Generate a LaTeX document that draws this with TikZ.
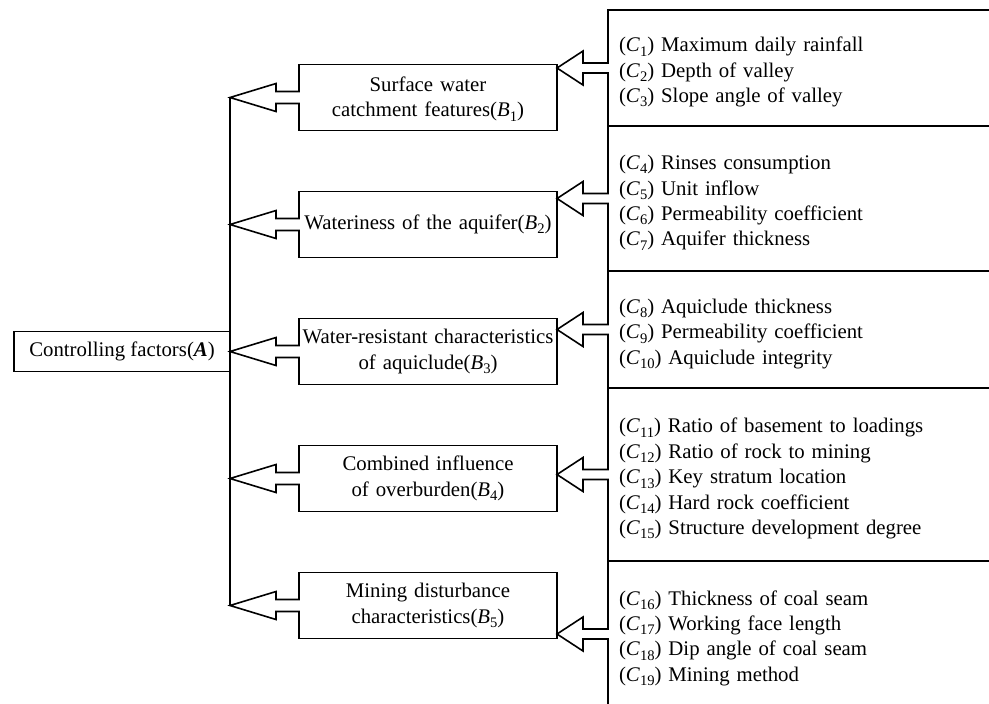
\documentclass[tikz,border=0pt]{standalone}
\usepackage{fontspec}
\setmainfont{Liberation Serif}
\usetikzlibrary{positioning,calc}

\newcommand{\fac}[2]{\textit{#1}\raisebox{-0.45ex}{\fontsize{7.3}{8}\selectfont#2}}

\begin{document}
\begin{tikzpicture}[x=0.5pt, y=-0.5pt, line width=0.8pt,
    every node/.style={font=\fontsize{10.4}{12.7}\selectfont, outer sep=0pt},
    factor/.style={draw, text width=129pt, inner xsep=0pt, inner ysep=0pt, minimum height=33pt, align=center},
    panel/.style={text width=185pt, inner xsep=5.5pt, inner ysep=0pt, align=left,
      execute at begin node=\rule{0pt}{11.5pt}},
    hollow/.style={fill=white}]
  \useasboundingbox (0,0) rectangle (989,703);
  \clip (0,0) rectangle (989,703);

  % Criteria
  \node[factor] (B1) at (428,97.5) {\rule{0pt}{9pt}Surface water\\catchment features(\fac{B}{1})};
  \node[factor, below=30.5pt of B1] (B2) {Wateriness of the aquifer(\fac{B}{2})};
  \node[factor, below=30.5pt of B2] (B3) {Water-resistant characteristics\\of aquiclude(\fac{B}{3})};
  \node[factor, below=30.5pt of B3] (B4) {Combined influence\\of overburden(\fac{B}{4})};
  \node[factor, below=30.5pt of B4] (B5) {Mining disturbance\\characteristics(\fac{B}{5})};

  % Goal
  \node[draw, minimum width=108pt, minimum height=20pt, inner sep=0pt, left=34.5pt of B3] (A)
    {Controlling factors(\textbf{\textit{A}})};

  % Indicator panels
  \node[panel, minimum height=58pt, anchor=north west] (P1) at (608,10)
    {(\fac{C}{1}) Maximum daily rainfall\\(\fac{C}{2}) Depth of valley\\(\fac{C}{3}) Slope angle of valley};
  \node[panel, minimum height=72.5pt, below=0pt of P1] (P2)
    {(\fac{C}{4}) Rinses consumption\\(\fac{C}{5}) Unit inflow\\(\fac{C}{6}) Permeability coefficient\\(\fac{C}{7}) Aquifer thickness};
  \node[panel, minimum height=58.5pt, below=0pt of P2] (P3)
    {(\fac{C}{8}) Aquiclude thickness\\(\fac{C}{9}) Permeability coefficient\\(\fac{C}{10}) Aquiclude integrity};
  \node[panel, minimum height=86.5pt, below=0pt of P3] (P4)
    {(\fac{C}{11}) Ratio of basement to loadings\\(\fac{C}{12}) Ratio of rock to mining\\(\fac{C}{13}) Key stratum location\\(\fac{C}{14}) Hard rock coefficient\\(\fac{C}{15}) Structure development degree};
  \node[panel, minimum height=73pt, below=0pt of P4] (P5)
    {(\fac{C}{16}) Thickness of coal seam\\(\fac{C}{17}) Working face length\\(\fac{C}{18}) Dip angle of coal seam\\(\fac{C}{19}) Mining method};
  \foreach \i in {1,...,5}
    \draw (P\i.north east) -- (P\i.north west) -- (P\i.south west);

  % Hollow arrows: indicators to criteria
  \foreach \i in {1,...,5}
    \filldraw[hollow] ($(P\i.west)+(0.8,-5)$) -- ++(-25.8,0) -- ++(0,-12) -- (B\i.east |- P\i.west)
      -- ++(26,17) -- ++(0,-12) -- ++(25.8,0);

  % Hollow arrows: criteria to goal
  \draw[line width=0.6pt] (A.east |- B1.west) -- (A.east |- B5.west);
  \foreach \i in {1,...,5}
    \filldraw[hollow] ($(B\i.west)+(0.8,-6)$) -- ++(-23.8,0) -- ++(0,-8) -- (A.east |- B\i.west)
      -- ++(46,14) -- ++(0,-8) -- ++(23.8,0);
\end{tikzpicture}
\end{document}
